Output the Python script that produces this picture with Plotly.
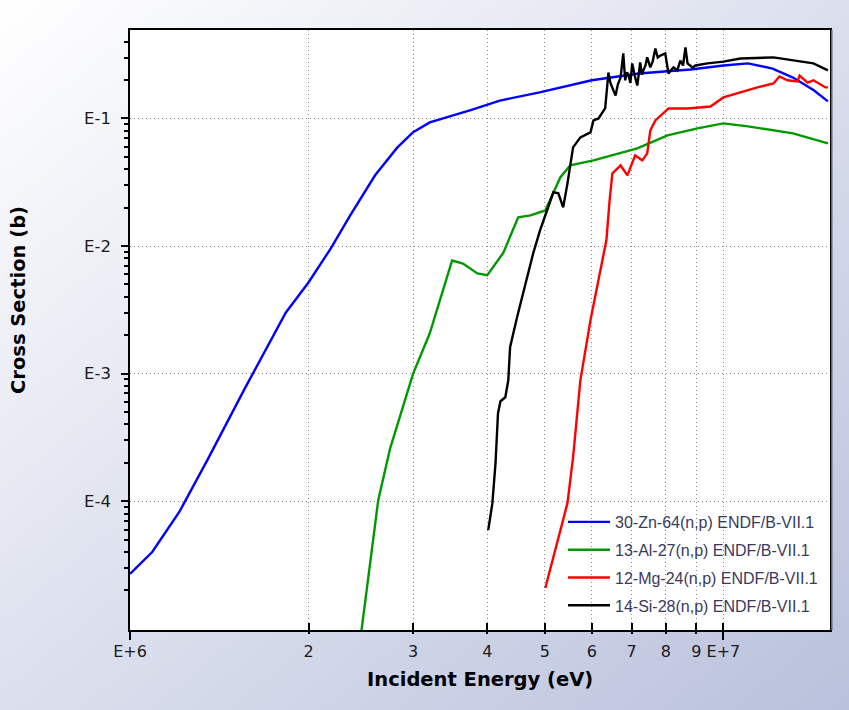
import base64
import plotly.graph_objects as go

# ---------------- data (energy in eV, cross section in barns) ----------------
zn_e = [1.0e6, 1.09e6, 1.21e6, 1.35e6, 1.56e6, 1.83e6, 2.0e6, 2.18e6, 2.35e6, 2.59e6,
        2.82e6, 3.0e6, 3.2e6, 3.75e6, 4.2e6, 4.9e6, 6.0e6, 7.2e6, 8.8e6, 1.0e7,
        1.1e7, 1.21e7, 1.31e7, 1.42e7, 1.5e7]
zn_s = [2.7e-5, 4.0e-5, 8.2e-5, 2.1e-4, 7.6e-4, 3.0e-3, 5.2e-3, 9.6e-3, 1.74e-2, 3.6e-2,
        5.9e-2, 7.8e-2, 9.3e-2, 0.116, 0.138, 0.16, 0.199, 0.225, 0.242, 0.26,
        0.27, 0.246, 0.209, 0.166, 0.136]

al_e = [2.45e6, 2.54e6, 2.62e6, 2.744e6, 3.0e6, 3.2e6, 3.49e6, 3.64e6, 3.85e6, 4.0e6,
        4.26e6, 4.51e6, 4.73e6, 5.01e6, 5.31e6, 5.52e6, 6.04e6, 7.16e6, 8.05e6, 9.04e6,
        1.0e7, 1.1e7, 1.21e7, 1.31e7, 1.5e7]
al_s = [9.0e-6, 3.46e-5, 1.02e-4, 2.6e-4, 1.0e-3, 2.07e-3, 7.7e-3, 7.3e-3, 6.1e-3, 5.9e-3,
        8.9e-3, 1.68e-2, 1.74e-2, 1.9e-2, 3.45e-2, 4.29e-2, 4.69e-2, 5.82e-2, 7.36e-2, 8.35e-2,
        9.14e-2, 8.66e-2, 8.05e-2, 7.63e-2, 6.37e-2]

mg_e = [5.01e6, 5.25e6, 5.46e6, 5.58e6, 5.74e6, 5.97e6, 6.2e6, 6.35e6, 6.43e6, 6.5e6,
        6.71e6, 6.89e6, 7.1e6, 7.3e6, 7.44e6, 7.53e6, 7.68e6, 8.08e6, 8.7e6, 9.51e6,
        1.0e7, 1.068e7, 1.141e7, 1.214e7, 1.243e7, 1.282e7, 1.333e7, 1.344e7, 1.386e7,
        1.418e7, 1.486e7, 1.5e7]
mg_s = [2.09e-5, 4.95e-5, 9.66e-5, 2.21e-4, 8.87e-4, 2.62e-3, 6.22e-3, 1.11e-2, 2.28e-2, 3.71e-2,
        4.28e-2, 3.58e-2, 5.13e-2, 4.69e-2, 5.32e-2, 8.05e-2, 9.64e-2, 0.1197, 0.1197, 0.124,
        0.146, 0.16, 0.175, 0.188, 0.213, 0.199, 0.195, 0.217, 0.191,
        0.199, 0.175, 0.175]

si_e = [4.015e6, 4.08e6, 4.13e6, 4.17e6, 4.21e6, 4.29e6, 4.34e6, 4.37e6, 4.49e6, 4.58e6,
        4.67e6, 4.78e6, 4.91e6, 5.05e6, 5.17e6, 5.27e6, 5.37e6, 5.46e6, 5.58e6, 5.74e6,
        5.97e6, 6.04e6, 6.16e6, 6.25e6, 6.32e6, 6.36e6, 6.4e6, 6.45e6, 6.5e6, 6.58e6,
        6.64e6, 6.71e6, 6.78e6, 6.83e6, 6.88e6, 6.92e6, 6.97e6, 7.02e6, 7.09e6, 7.16e6,
        7.24e6, 7.29e6, 7.33e6, 7.39e6, 7.44e6, 7.53e6, 7.6e6, 7.68e6, 7.75e6, 7.83e6,
        7.98e6, 8.08e6, 8.16e6, 8.24e6, 8.36e6, 8.46e6, 8.55e6, 8.63e6, 8.7e6, 8.87e6,
        8.97e6, 9.4e6, 1.0e7, 1.068e7, 1.214e7, 1.312e7, 1.418e7, 1.5e7]
si_s = [5.94e-5, 9.66e-5, 1.99e-4, 4.9e-4, 6.08e-4, 6.53e-4, 8.87e-4, 1.61e-3, 2.77e-3, 3.96e-3,
        5.69e-3, 8.77e-3, 1.33e-2, 1.9e-2, 2.64e-2, 2.59e-2, 2.01e-2, 3.1e-2, 5.93e-2, 7.1e-2,
        7.77e-2, 9.64e-2, 0.1, 0.111, 0.12, 0.165, 0.229, 0.19, 0.175, 0.151,
        0.185, 0.209, 0.323, 0.199, 0.23, 0.217, 0.19, 0.27, 0.215, 0.181,
        0.275, 0.22, 0.238, 0.26, 0.301, 0.251, 0.28, 0.353, 0.3, 0.311,
        0.323, 0.225, 0.24, 0.251, 0.238, 0.284, 0.26, 0.36, 0.27, 0.251,
        0.26, 0.27, 0.279, 0.295, 0.301, 0.284, 0.27, 0.238]

series_names = ["30-Zn-64(n,p) ENDF/B-VII.1", "13-Al-27(n,p) ENDF/B-VII.1",
                "12-Mg-24(n,p) ENDF/B-VII.1", "14-Si-28(n,p) ENDF/B-VII.1"]
series_colors = ["#0000ff", "#009900", "#ff0000", "#000000"]

x_major = [1e6, 2e6, 3e6, 4e6, 5e6, 6e6, 7e6, 8e6, 9e6, 1e7]
x_labels = ["E+6", "2", "3", "4", "5", "6", "7", "8", "9", "E+7"]
y_major = [1e-4, 1e-3, 1e-2, 1e-1]
y_labels = ["E-4", "E-3", "E-2", "E-1"]
y_minor = [m * 10.0 ** d for d in range(-5, 0) for m in range(2, 10)]

# ---------------- figure ----------------
W, H = 849, 710
ML, MR, MT, MB = 130, 19, 30, 80
PW, PH = W - ML - MR, H - MT - MB

fig = go.Figure()
for i, (e, s, n, c) in enumerate(zip([zn_e, al_e, mg_e, si_e], [zn_s, al_s, mg_s, si_s],
                                      series_names, series_colors)):
    fig.add_trace(go.Scatter(x=e, y=s, name=n, mode="lines", legendgroup=f"g{i}",
                             line=dict(color=c, width=2.4), xaxis="x", yaxis="y"))

# invisible helper trace so the overlay axis (outer tick marks) is drawn
fig.add_trace(go.Scatter(x=zn_e, y=zn_s, mode="lines", opacity=0, showlegend=False,
                         hoverinfo="skip", xaxis="x2", yaxis="y"))

svg = (f'<svg xmlns="http://www.w3.org/2000/svg" width="{W}" height="{H}" preserveAspectRatio="none">'
       '<defs><linearGradient id="g" x1="0" y1="0" x2="1" y2="1">'
       '<stop offset="0" stop-color="#ffffff"/><stop offset="1" stop-color="#b9c1dc"/>'
       '</linearGradient></defs>'
       f'<rect width="{W}" height="{H}" fill="url(#g)"/></svg>')
bg_src = "data:image/svg+xml;base64," + base64.b64encode(svg.encode()).decode()

xr = [6.0, 7.1796]
yr = [-5.009, -0.307]
grid_dash = "1px,3px"

fig.update_layout(
    width=W, height=H,
    margin=dict(l=ML, r=MR, t=MT, b=MB, pad=0),
    paper_bgcolor="#ffffff",
    plot_bgcolor="#ffffff",
    font=dict(family="DejaVu Sans", color="#1a1a1a"),
    images=[dict(source=bg_src, xref="paper", yref="paper",
                 x=-ML / PW, y=1 + MT / PH, sizex=W / PW, sizey=H / PH,
                 xanchor="left", yanchor="top", sizing="stretch", layer="below")],
    shapes=[
        dict(type="rect", xref="paper", yref="paper", x0=0, x1=1, y0=0, y1=1,
             fillcolor="#ffffff", line=dict(width=0), layer="below"),
        # soft shadow along the right edge of the plot frame
        dict(type="line", xref="paper", yref="paper", xsizemode="pixel", xanchor=1,
             x0=1.8, x1=1.8, y0=0, y1=1, line=dict(color="#6a6a78", width=1.5),
             layer="above"),
    ],
    xaxis=dict(type="log", range=xr, tickmode="array", tickvals=x_major, ticktext=x_labels,
               ticks="inside", ticklen=7, tickwidth=2, tickcolor="#000",
               showline=True, linecolor="#000", linewidth=1.5, mirror=True,
               showgrid=True, gridcolor="#8c8c8c", griddash=grid_dash, gridwidth=1,
               zeroline=False, tickfont=dict(size=16, color="#1a1a1a"),
               ticklabelstandoff=6),
    xaxis2=dict(type="log", range=xr, overlaying="x", anchor="y", side="bottom",
                tickmode="array", tickvals=[1e6, 1e7], ticktext=["", ""],
                ticks="outside", ticklen=9, tickwidth=2, tickcolor="#000",
                minor=dict(tickmode="array", tickvals=x_major[1:-1], ticks="outside",
                           ticklen=3, tickwidth=2, tickcolor="#000", showgrid=False),
                showline=False, showgrid=False, zeroline=False, showticklabels=False),
    yaxis=dict(type="log", range=yr, tickmode="array", tickvals=y_major, ticktext=y_labels,
               ticks="outside", ticklen=7, tickwidth=2, tickcolor="#000",
               minor=dict(tickmode="array", tickvals=y_minor, ticks="outside",
                          ticklen=4, tickwidth=2, tickcolor="#000", showgrid=False),
               showline=True, linecolor="#000", linewidth=1.5, mirror=True,
               showgrid=True, gridcolor="#8c8c8c", griddash=grid_dash, gridwidth=1,
               zeroline=False, tickfont=dict(size=16.5, color="#1a1a1a"),
               ticklabelstandoff=7),
    showlegend=True,
    legend=dict(x=(563 - ML) / PW, y=(MT + PH - 505) / PH, xanchor="left", yanchor="top",
                bgcolor="rgba(0,0,0,0)", borderwidth=0, traceorder="grouped",
                font=dict(family="Liberation Sans", size=16, color="#3a3a5e"),
                itemwidth=42, tracegroupgap=4),
    annotations=[
        dict(text="<b>Incident Energy (eV)</b>", xref="paper", yref="paper",
             x=0.5, y=0, yshift=-49, xanchor="center", yanchor="middle", showarrow=False,
             font=dict(family="DejaVu Sans", size=19.5, color="#000")),
        dict(text="<b>Cross Section (b)</b>", xref="paper", yref="paper",
             x=0, xshift=-112, y=0.5, yshift=30, xanchor="center", yanchor="middle",
             textangle=-90, showarrow=False,
             font=dict(family="DejaVu Sans", size=19.5, color="#000")),
    ],
)

fig.write_html("out.html")
